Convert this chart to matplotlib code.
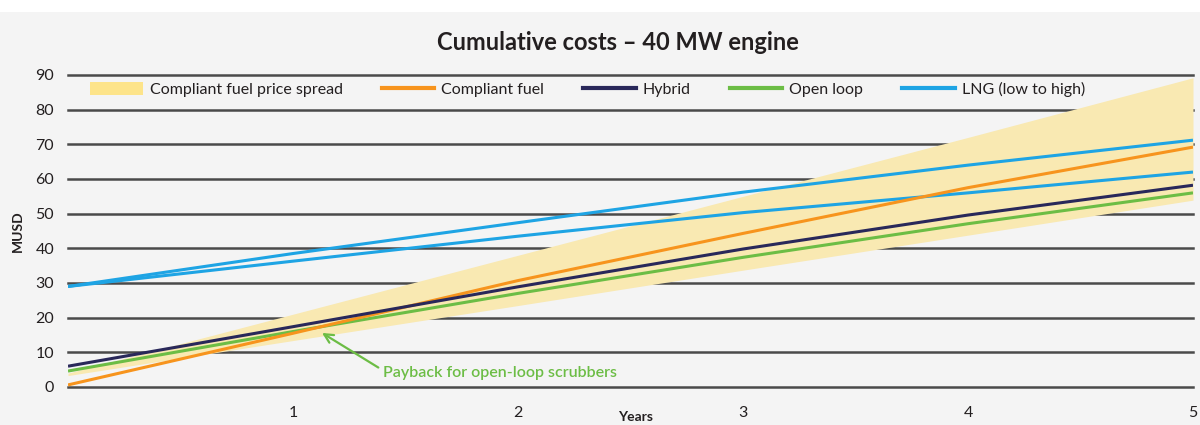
import matplotlib
matplotlib.use("Agg")
import matplotlib.pyplot as plt
from matplotlib.patches import Patch, Rectangle
from matplotlib.lines import Line2D

plt.rcParams['font.family'] = ['Lato', 'DejaVu Sans']

# ---- data ----
years = [0, 1, 2, 3, 4, 5]
spread_low = [3.3, 13.4, 23.5, 33.7, 43.8, 53.9]
spread_high = [4.0, 21.0, 38.0, 55.0, 72.0, 89.2]
compliant_fuel = [0.6, 15.5, 30.7, 44.3, 57.5, 69.2]
hybrid = [6.0, 17.4, 28.9, 39.8, 49.6, 58.2]
open_loop = [4.6, 16.0, 27.0, 37.4, 47.1, 56.0]
lng_high = [29.0, 38.5, 47.4, 56.2, 64.0, 71.2]
lng_low = [29.0, 36.3, 43.5, 50.3, 56.0, 62.0]
y_ticks = [0, 10, 20, 30, 40, 50, 60, 70, 80, 90]
x_ticks = [1, 2, 3, 4, 5]

BG = '#f4f4f4'
C_BAND = '#f9e9b2'
C_BAND_LEG = '#fde48a'
C_ORANGE = '#f7941d'
C_NAVY = '#29285a'
C_GREEN = '#6cbd45'
C_BLUE = '#1ea4e4'
C_GRID = '#4a4a4a'
C_TXT = '#231f20'

fig = plt.figure(figsize=(12, 4.25), dpi=100)
fig.patch.set_facecolor('white')
fig.patches.append(Rectangle((0, 0), 1, 1 - 12 / 425, transform=fig.transFigure,
                             facecolor=BG, edgecolor='none', zorder=-10))

ax = fig.add_axes([68 / 1200, 38 / 425, 1125 / 1200, 312 / 425])
ax.set_facecolor('none')
ax.set_xlim(0, 5)
ax.set_ylim(0, 90)

for yv in y_ticks:
    ax.axhline(yv, color=C_GRID, lw=1.8, zorder=1, clip_on=False)

ax.fill_between(years, spread_low, spread_high, color=C_BAND, lw=0, zorder=2)
lw = 2.2
ax.plot(years, lng_high, color=C_BLUE, lw=lw, zorder=3, solid_capstyle='butt')
ax.plot(years, lng_low, color=C_BLUE, lw=lw, zorder=3, solid_capstyle='butt')
ax.plot(years, open_loop, color=C_GREEN, lw=lw, zorder=4, solid_capstyle='butt')
ax.plot(years, hybrid, color=C_NAVY, lw=lw, zorder=5, solid_capstyle='butt')
ax.plot(years, compliant_fuel, color=C_ORANGE, lw=lw, zorder=4, solid_capstyle='butt')

for s in ax.spines.values():
    s.set_visible(False)
ax.set_yticks(y_ticks)
ax.set_xticks(x_ticks)
ax.set_xticklabels([str(v) for v in x_ticks])
ax.tick_params(axis='both', length=0, labelsize=11.5, colors=C_TXT)
ax.tick_params(axis='y', pad=10)
ax.tick_params(axis='x', pad=14)

ax.set_ylabel('MUSD', fontsize=10, fontweight='bold', color=C_TXT, labelpad=8)
fig.text(636 / 1200, 1 - 417 / 425, 'Years', ha='center', va='center',
         fontsize=10, fontweight='bold', color=C_TXT)

fig.text(618 / 1200, 1 - 43 / 425, 'Cumulative costs \u2013 40 MW engine',
         ha='center', va='center', fontsize=17, fontweight='bold', color=C_TXT)

handles = [
    Patch(facecolor=C_BAND_LEG, edgecolor='none', label='Compliant fuel price spread'),
    Line2D([], [], color=C_ORANGE, lw=3, label='Compliant fuel'),
    Line2D([], [], color=C_NAVY, lw=3, label='Hybrid'),
    Line2D([], [], color=C_GREEN, lw=3, label='Open loop'),
    Line2D([], [], color=C_BLUE, lw=3, label='LNG (low to high)'),
]
leg = ax.legend(handles=handles, ncol=5, frameon=False, loc='center left',
                bbox_to_anchor=(22 / 1125, 85.8 / 90), borderpad=0, borderaxespad=0,
                fontsize=11.5, handlelength=3.3, handleheight=0.9, handletextpad=0.45,
                columnspacing=2.42)
for t in leg.get_texts():
    t.set_color(C_TXT)

ax.annotate('Payback for open-loop scrubbers', xy=(1.129, 15.6), xytext=(1.4, 4.0),
            fontsize=11.5, color=C_GREEN, fontweight='semibold', ha='left', va='center',
            arrowprops=dict(arrowstyle='->', color=C_GREEN, lw=1.6,
                            shrinkA=0, shrinkB=0, mutation_scale=16,
                            relpos=(-0.02, 0.9)))

fig.savefig('out.png', dpi=100, facecolor=fig.get_facecolor())
